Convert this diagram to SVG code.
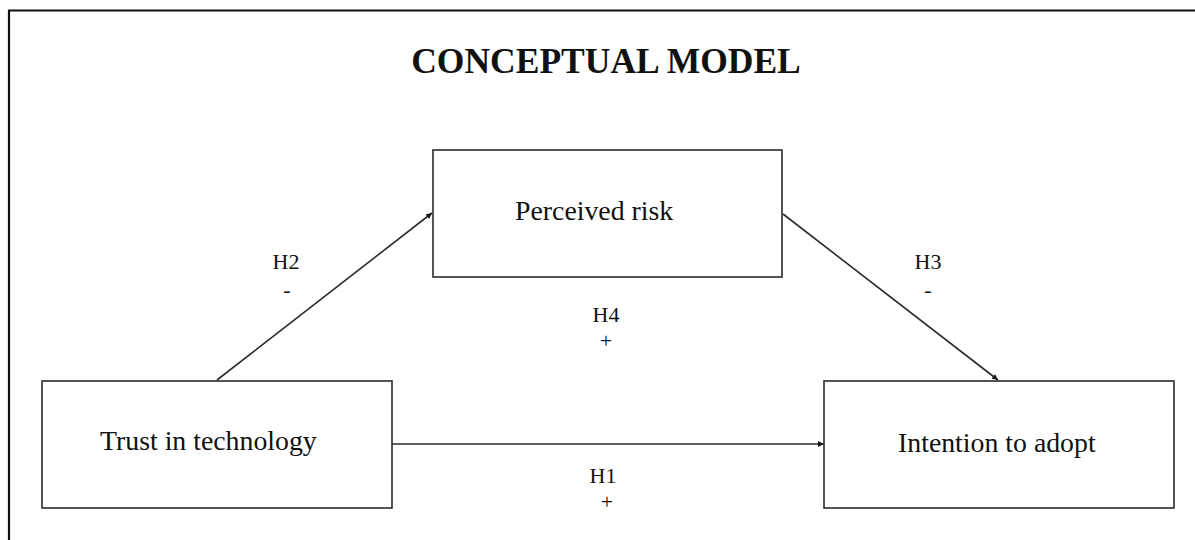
<svg xmlns="http://www.w3.org/2000/svg" width="1195" height="540" viewBox="0 0 1195 540">
  <style>
    .box { fill: #ffffff; stroke: #2b2b2b; stroke-width: 1.6; }
    .node-text { font-family: "Liberation Serif", "Times New Roman", serif; font-size: 27.8px; fill: #111; }
    .lbl { font-family: "Liberation Serif", "Times New Roman", serif; font-size: 22px; fill: #111; text-anchor: middle; }
    .conn { stroke: #2b2b2b; stroke-width: 1.6; fill: none; marker-end: url(#arrow); }
    .title { font-family: "Liberation Serif", "Times New Roman", serif; font-size: 35.5px; font-weight: bold; fill: #111; text-anchor: middle; }
  </style>
  <defs>
    <marker id="arrow" viewBox="0 0 10 10" refX="10" refY="5" markerWidth="6" markerHeight="6" markerUnits="userSpaceOnUse" orient="auto">
      <path d="M0,0 L10,5 L0,10 z" fill="#1a1a1a"/>
    </marker>
  </defs>
  <rect x="0" y="0" width="1195" height="540" fill="#ffffff"/>
  <path d="M9,545 L9,10.5 L1200,10.5" fill="none" stroke="#111" stroke-width="2.2"/>
  <text class="title" x="606" y="73">CONCEPTUAL MODEL</text>

  <g id="connectors">
    <line class="conn" x1="217" y1="380" x2="432" y2="213"/>
    <line class="conn" x1="783" y1="214" x2="998" y2="380"/>
    <line class="conn" x1="392" y1="444" x2="824" y2="444"/>
  </g>

  <g id="node-perceived-risk">
    <rect class="box" x="433" y="150" width="349" height="127"/>
    <text class="node-text" x="515" y="220">Perceived risk</text>
  </g>
  <g id="node-trust">
    <rect class="box" x="42" y="381" width="350" height="127"/>
    <text class="node-text" x="100" y="450">Trust in technology</text>
  </g>
  <g id="node-intention">
    <rect class="box" x="824" y="381" width="350" height="127"/>
    <text class="node-text" x="898" y="452">Intention to adopt</text>
  </g>

  <g id="labels">
    <text class="lbl" x="286" y="269">H2</text>
    <text class="lbl" x="287" y="297">-</text>
    <text class="lbl" x="928" y="269">H3</text>
    <text class="lbl" x="928" y="297">-</text>
    <text class="lbl" x="606" y="322">H4</text>
    <text class="lbl" x="606" y="348">+</text>
    <text class="lbl" x="603" y="483">H1</text>
    <text class="lbl" x="607" y="509">+</text>
  </g>
</svg>
